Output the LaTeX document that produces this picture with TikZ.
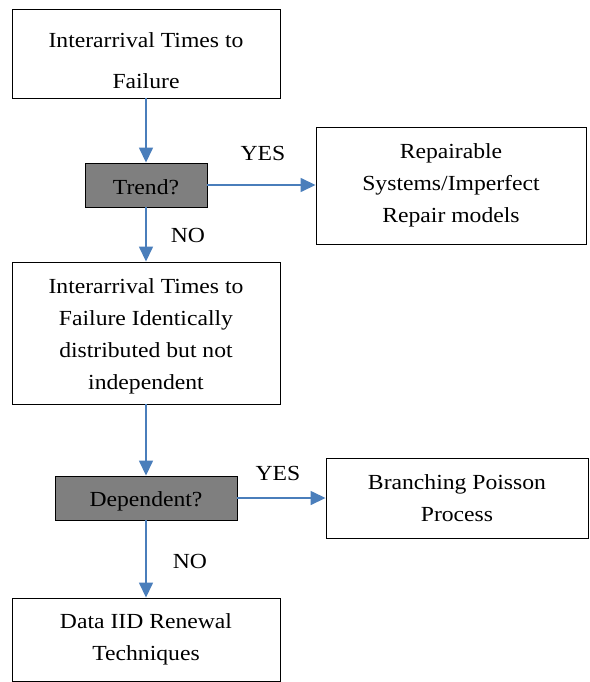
\documentclass[tikz,border=0pt]{standalone}
\usepackage{fontspec}
\setmainfont{Liberation Serif}[FakeStretch=1.1]
\usetikzlibrary{arrows.meta}
\definecolor{arrowblue}{HTML}{4A7EBB}
\definecolor{qgray}{HTML}{7F7F7F}
\begin{document}
\begin{tikzpicture}[x=1pt,y=-1pt,
  box/.style={draw=black, line width=0.9pt, inner sep=0pt, align=center,
    font=\fontsize{21.5}{32}\selectfont},
  qbox/.style={box, fill=qgray},
  txt/.style={inner sep=0pt, align=center, font=\fontsize{21.5}{32}\selectfont},
  conn/.style={draw=arrowblue, line width=1.5pt, -{Triangle[length=15pt,width=14pt]}}
]
\useasboundingbox (0,0) rectangle (589,682);
\node[box, minimum width=268pt, minimum height=89pt] (a) at (146,53.5) {};
\node[txt, font=\fontsize{21.5}{41}\selectfont] (at) at (146,61) {Interarrival Times to\\Failure};
\node[qbox, minimum width=122pt, minimum height=44pt] (trend) at (146,185) {\rule{0pt}{19pt}Trend?};
\node[box, minimum width=268pt, minimum height=142pt] (c) at (146,333)
  {\rule{0pt}{22pt}Interarrival Times to\\Failure Identically\\distributed but not\\independent};
\node[box, minimum width=270pt, minimum height=117pt] (rep) at (451,185.5)
  {Repairable\\Systems/Imperfect\\Repair models};
\node[qbox, minimum width=182pt, minimum height=44pt] (dep) at (146,498) {\rule{0pt}{21pt}Dependent?};
\node[box, minimum width=262pt, minimum height=80pt] (br) at (457,498)
  {Branching Poisson\\Process};
\node[box, minimum width=268pt, minimum height=83pt] (e) at (146,639.5)
  {Data IID Renewal\\Techniques};
\node[txt] (yes1) at (263,153) {YES};
\node[txt] (no1) at (188,235) {NO};
\node[txt] (yes2) at (278,473) {YES};
\node[txt] (no2) at (190,561) {NO};
\draw[conn] (a) -- (trend);
\draw[conn] (trend) -- (c);
\draw[conn] (trend.east) -- (rep.west |- trend.east);
\draw[conn] (c) -- (dep);
\draw[conn] (dep) -- (e);
\draw[conn] (dep.east) -- (br.west);
\end{tikzpicture}
\end{document}
